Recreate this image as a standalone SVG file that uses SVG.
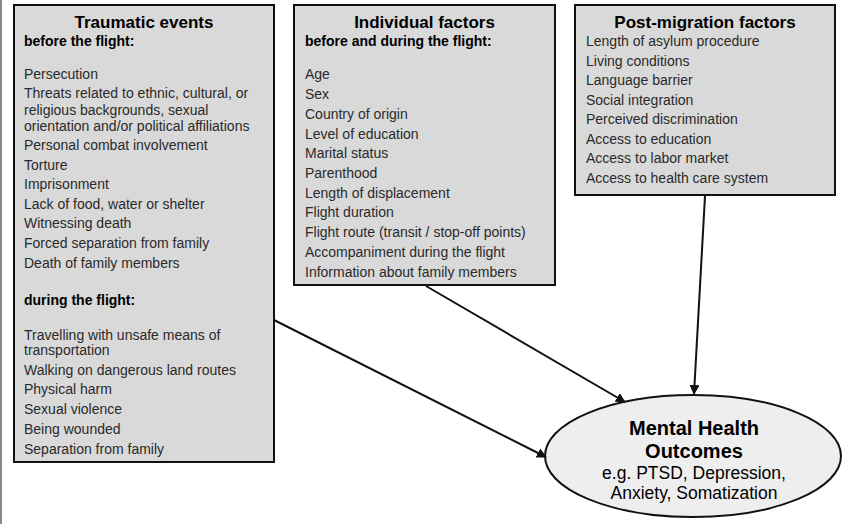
<svg xmlns="http://www.w3.org/2000/svg" width="850" height="524" viewBox="0 0 850 524">
<style>
.box{fill:#d9d9d9;stroke:#111;stroke-width:2}
.ell{fill:#eeeeee;stroke:#111;stroke-width:2}
.title{font-family:"Liberation Sans",Arial,sans-serif;font-weight:bold;font-size:17px;fill:#000;text-anchor:middle}
.sub{font-family:"Liberation Sans",Arial,sans-serif;font-weight:bold;font-size:14px;fill:#000}
.item{font-family:"Liberation Sans",Arial,sans-serif;font-size:14px;fill:#2a2a2a}
.big{font-family:"Liberation Sans",Arial,sans-serif;font-weight:bold;font-size:20px;fill:#000;text-anchor:middle}
.eg{font-family:"Liberation Sans",Arial,sans-serif;font-size:17.5px;fill:#000;text-anchor:middle}
.con{stroke:#111;stroke-width:2;fill:none;marker-end:url(#arr)}
</style>
<defs>
<marker id="arr" viewBox="0 0 10 10" refX="9" refY="5" markerWidth="5" markerHeight="5" orient="auto" markerUnits="strokeWidth">
<path d="M0,0 L10,5 L0,10 z" fill="#111"/>
</marker>
</defs>
<rect width="850" height="524" fill="#fff"/>
<line x1="1" y1="0" x2="1" y2="524" stroke="#888" stroke-width="2"/>

<g id="traumatic-events">
<rect class="box" x="14" y="5" width="260" height="457"/>
<text class="title" x="144" y="28">Traumatic events</text>
<text class="sub" x="24" y="46">before the flight:</text>
<text class="item" x="24" y="78.5">Persecution</text>
<text class="item" x="24" y="98">Threats related to ethnic, cultural, or</text>
<text class="item" x="24" y="114.5">religious backgrounds, sexual</text>
<text class="item" x="24" y="131">orientation and/or political affiliations</text>
<text class="item" x="24" y="150">Personal combat involvement</text>
<text class="item" x="24" y="169.5">Torture</text>
<text class="item" x="24" y="189">Imprisonment</text>
<text class="item" x="24" y="208.5">Lack of food, water or shelter</text>
<text class="item" x="24" y="228">Witnessing death</text>
<text class="item" x="24" y="248">Forced separation from family</text>
<text class="item" x="24" y="268">Death of family members</text>
<text class="sub" x="24" y="305">during the flight:</text>
<text class="item" x="24" y="339.5">Travelling with unsafe means of</text>
<text class="item" x="24" y="355">transportation</text>
<text class="item" x="24" y="374.5">Walking on dangerous land routes</text>
<text class="item" x="24" y="394">Physical harm</text>
<text class="item" x="24" y="414">Sexual violence</text>
<text class="item" x="24" y="433.5">Being wounded</text>
<text class="item" x="24" y="453.5">Separation from family</text>
</g>

<g id="individual-factors">
<rect class="box" x="294" y="5" width="261" height="280"/>
<text class="title" x="424.5" y="28">Individual factors</text>
<text class="sub" x="305" y="46">before and during the flight:</text>
<text class="item" x="305" y="79">Age</text>
<text class="item" x="305" y="99">Sex</text>
<text class="item" x="305" y="119">Country of origin</text>
<text class="item" x="305" y="138.5">Level of education</text>
<text class="item" x="305" y="158">Marital status</text>
<text class="item" x="305" y="178">Parenthood</text>
<text class="item" x="305" y="197.5">Length of displacement</text>
<text class="item" x="305" y="217">Flight duration</text>
<text class="item" x="305" y="237">Flight route (transit / stop-off points)</text>
<text class="item" x="305" y="257">Accompaniment during the flight</text>
<text class="item" x="305" y="277">Information about family members</text>
</g>

<g id="post-migration-factors">
<rect class="box" x="575" y="5" width="260" height="190"/>
<text class="title" x="705" y="28">Post-migration factors</text>
<text class="item" x="586" y="46">Length of asylum procedure</text>
<text class="item" x="586" y="65.5">Living conditions</text>
<text class="item" x="586" y="85">Language barrier</text>
<text class="item" x="586" y="104.5">Social integration</text>
<text class="item" x="586" y="124">Perceived discrimination</text>
<text class="item" x="586" y="143.5">Access to education</text>
<text class="item" x="586" y="163">Access to labor market</text>
<text class="item" x="586" y="183">Access to health care system</text>
</g>

<g id="mental-health-outcomes">
<ellipse class="ell" cx="693" cy="456" rx="148" ry="61"/>
<text class="big" x="694" y="435">Mental Health</text>
<text class="big" x="694" y="458">Outcomes</text>
<text class="eg" x="694" y="479">e.g. PTSD, Depression,</text>
<text class="eg" x="694" y="498.5">Anxiety, Somatization</text>
</g>

<g id="connectors">
<line class="con" x1="274" y1="320" x2="546" y2="457"/>
<line class="con" x1="426" y1="286" x2="625" y2="402"/>
<line class="con" x1="705" y1="196" x2="694" y2="394"/>
</g>
</svg>
